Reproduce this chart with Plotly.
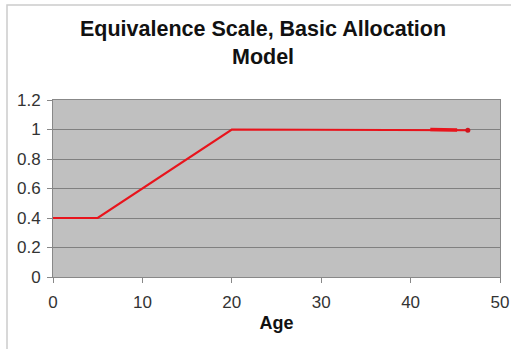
import plotly.graph_objects as go

ages = [0, 5, 20, 42, 46.4]
scale = [0.4, 0.4, 1.0, 1.0, 0.995]
thick_ages = [42.2, 45.2]
thick_scale = [1.0, 0.997]
end_age = [46.4]
end_scale = [0.995]
title_text = "<b>Equivalence Scale, Basic Allocation<br>Model</b>"

fig = go.Figure()
fig.add_trace(go.Scatter(x=ages, y=scale, mode="lines",
                         line=dict(color="#e8141c", width=2.2), showlegend=False))
fig.add_trace(go.Scatter(x=thick_ages, y=thick_scale, mode="lines",
                         line=dict(color="#e8141c", width=3.5), showlegend=False))
fig.add_trace(go.Scatter(x=end_age, y=end_scale, mode="markers",
                         marker=dict(color="#d0141c", size=5), showlegend=False))

fig.add_annotation(text=title_text, xref="paper", yref="paper",
                   x=(263 - 53) / 447, y=1 + 29 / 177, xanchor="center", yanchor="bottom",
                   showarrow=False, font=dict(size=21.5, color="#111"))

fig.update_layout(
    width=511, height=349,
    margin=dict(l=53, r=11, t=100, b=72),
    paper_bgcolor="white", plot_bgcolor="#c0c0c0",
    font=dict(family="Liberation Sans, Arial", color="#222"),
    xaxis=dict(range=[0, 50], tickvals=[0, 10, 20, 30, 40, 50],
               showgrid=False, zeroline=False, ticks="outside", ticklen=5,
               tickcolor="#888", showline=True, linecolor="#888", linewidth=1, mirror=True,
               tickfont=dict(size=17, color="#333"), automargin=False, ticklabelstandoff=5,
               title=dict(text="<b>Age</b>", font=dict(size=18, color="#111"), standoff=4)),
    yaxis=dict(range=[0, 1.2], tickvals=[0, 0.2, 0.4, 0.6, 0.8, 1, 1.2],
               ticktext=["0", "0.2", "0.4", "0.6", "0.8", "1", "1.2"],
               showgrid=True, gridcolor="#808080", gridwidth=1, zeroline=False,
               ticks="outside", ticklen=5, tickcolor="#888", automargin=False,
               ticklabelstandoff=3,
               showline=True, linecolor="#888", linewidth=1, mirror=True,
               tickfont=dict(size=17, color="#333")),
    shapes=[dict(type="rect", xref="paper", yref="paper",
                 x0=-46 / 447, x1=1.2, y0=-0.6, y1=1 + 95 / 177,
                 line=dict(color="#cccccc", width=1.5), fillcolor="rgba(0,0,0,0)", layer="below")],
)
fig.write_html("out.html", config={"displayModeBar": False},
               post_script="document.body.style.margin='0';document.body.style.overflow='hidden';")
